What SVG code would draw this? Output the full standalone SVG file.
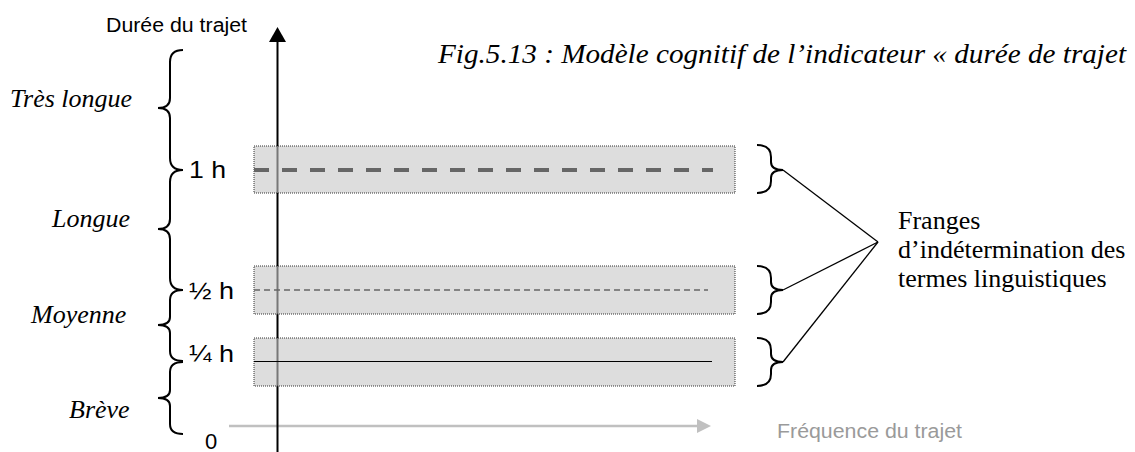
<svg xmlns="http://www.w3.org/2000/svg" width="1135" height="452" viewBox="0 0 1135 452">
<defs>
<style>
.serif{font-family:"Liberation Serif","Times New Roman",serif;fill:#000}
.it{font-style:italic}
.sans{font-family:"Liberation Sans",Arial,sans-serif;fill:#000}
.brace{fill:none;stroke:#000;stroke-width:2}
.band{fill:#c6c6c6;fill-opacity:0.6;stroke:#333;stroke-width:1;stroke-dasharray:1 1}
.link{stroke:#000;stroke-width:1.3;fill:none}
</style>
</defs>
<rect width="1135" height="452" fill="#fff"/>

<g id="axes">
<line x1="229" y1="426" x2="698" y2="426" stroke="#c0c0c0" stroke-width="2.5"/>
<polygon points="697,419 711,426 697,433" fill="#c0c0c0"/>
<line x1="277.5" y1="452" x2="277.5" y2="40" stroke="#000" stroke-width="2"/>
<polygon points="269,42 277.5,27 286,42" fill="#000"/>
</g>

<g id="band-1h">
<rect class="band" x="254" y="146" width="481" height="47"/>
<line x1="254" y1="170" x2="713" y2="170" stroke="#666" stroke-width="4" stroke-dasharray="15 13"/>
</g>
<g id="band-half">
<rect class="band" x="254" y="266" width="481" height="48"/>
<line x1="254" y1="290" x2="708" y2="290" stroke="#666" stroke-width="1.5" stroke-dasharray="6 4"/>
</g>
<g id="band-quarter">
<rect class="band" x="254" y="338" width="481" height="48"/>
<line x1="254" y1="361.5" x2="712" y2="361.5" stroke="#000" stroke-width="1"/>
</g>

<g id="left-braces">
<path class="brace" d="M183,50 Q170,50 170,62 L170,98 Q170,108 158,108 Q170,108 170,118 L170,158 Q170,170 183,170"/>
<path class="brace" d="M183,170 Q170,170 170,182 L170,219 Q170,229 158,229 Q170,229 170,239 L170,278 Q170,290 183,290"/>
<path class="brace" d="M183,290 Q170,290 170,300 L170,317 Q170,325 158,325 Q170,325 170,333 L170,351 Q170,361 183,361"/>
<path class="brace" d="M183,362 Q170,362 170,372 L170,390 Q170,398 158,398 Q170,398 170,406 L170,424 Q170,434 183,434"/>
</g>

<g id="right-braces">
<path class="brace" d="M757,145 Q771,145 771,157 L771,162 Q771,170 783,170 Q771,170 771,178 L771,181 Q771,193 757,193"/>
<path class="brace" d="M757,266 Q771,266 771,278 L771,282 Q771,290 783,290 Q771,290 771,298 L771,302 Q771,314 757,314"/>
<path class="brace" d="M757,338 Q771,338 771,350 L771,354 Q771,362 783,362 Q771,362 771,370 L771,374 Q771,386 757,386"/>
</g>

<g id="connectors">
<line class="link" x1="783" y1="170" x2="878" y2="242"/>
<line class="link" x1="783" y1="290" x2="878" y2="242"/>
<line class="link" x1="783" y1="362" x2="878" y2="242"/>
</g>

<g id="labels">
<text class="sans" x="106" y="32" font-size="20" textLength="141" lengthAdjust="spacingAndGlyphs">Durée du trajet</text>
<text class="serif it" x="438" y="63" font-size="27" textLength="688" lengthAdjust="spacingAndGlyphs">Fig.5.13 : Modèle cognitif de l’indicateur « durée de trajet</text>
<text class="serif it" x="10" y="107" font-size="26">Très longue</text>
<text class="serif it" x="52" y="227" font-size="26">Longue</text>
<text class="serif it" x="31" y="323" font-size="26">Moyenne</text>
<text class="serif it" x="69" y="418" font-size="26">Brève</text>
<text class="sans" x="189" y="178" font-size="24" textLength="37" lengthAdjust="spacingAndGlyphs">1 h</text>
<text class="sans" x="189" y="299" font-size="24" textLength="45" lengthAdjust="spacingAndGlyphs">½ h</text>
<text class="sans" x="189" y="362" font-size="24" textLength="45" lengthAdjust="spacingAndGlyphs">¼ h</text>
<text class="sans" x="205" y="449" font-size="22">0</text>
<text class="serif" x="898" y="229" font-size="26">Franges</text>
<text class="serif" x="898" y="258" font-size="26">d’indétermination des</text>
<text class="serif" x="898" y="287" font-size="26">termes linguistiques</text>
<text class="sans" x="777" y="438" font-size="20" textLength="185" lengthAdjust="spacingAndGlyphs" style="fill:#9a9a9a">Fréquence du trajet</text>
</g>
</svg>
